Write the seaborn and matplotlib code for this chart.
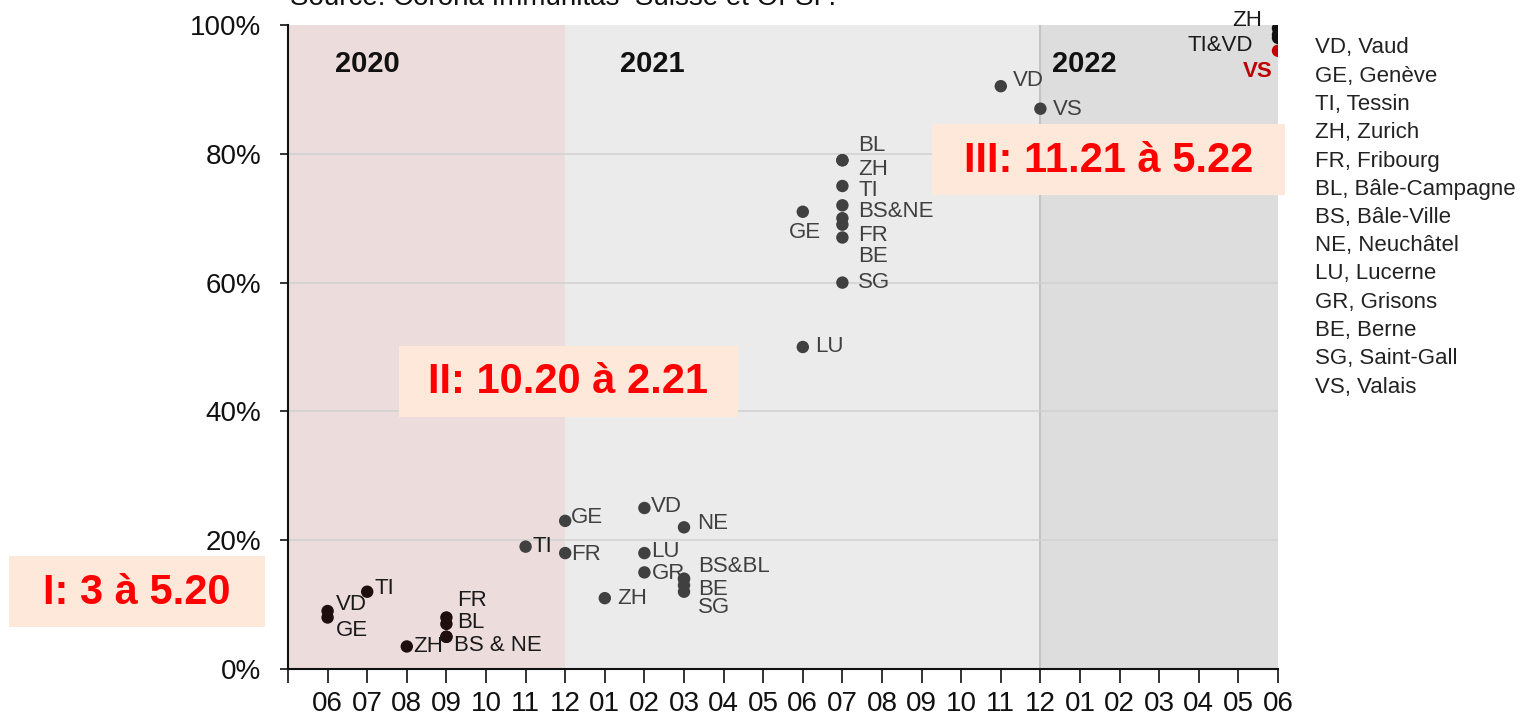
import pandas as pd
import seaborn as sns
import matplotlib.pyplot as plt
from matplotlib.ticker import FuncFormatter

# month axis: 05.20 .. 06.22 (first tick unlabeled)
months = ["05.20", "06.20", "07.20", "08.20", "09.20", "10.20", "11.20", "12.20",
          "01.21", "02.21", "03.21", "04.21", "05.21", "06.21", "07.21", "08.21",
          "09.21", "10.21", "11.21", "12.21", "01.22", "02.22", "03.22", "04.22",
          "05.22", "06.22"]
tick_labels = [""] + [m[:2] for m in months[1:]]

# wave I (3 - 5.20)
w1_canton = ["VD", "GE", "TI", "ZH", "FR", "BL", "BS", "NE"]
w1_month = ["06.20", "06.20", "07.20", "08.20", "09.20", "09.20", "09.20", "09.20"]
w1_pct = [9, 8, 12, 3.5, 8, 7, 5, 5]

# wave II (10.20 - 2.21)
w2_canton = ["TI", "GE", "FR", "ZH", "VD", "LU", "GR", "NE", "BS", "BL", "BE", "SG"]
w2_month = ["11.20", "12.20", "12.20", "01.21", "02.21", "02.21", "02.21",
            "03.21", "03.21", "03.21", "03.21", "03.21"]
w2_pct = [19, 23, 18, 11, 25, 18, 15, 22, 14, 14, 13, 12]

# wave III (11.21 - 5.22) and later surveys
w3_canton = ["GE", "LU", "BL", "ZH", "TI", "BS", "NE", "BE", "FR", "SG", "VD", "VS"]
w3_month = ["06.21", "06.21", "07.21", "07.21", "07.21", "07.21", "07.21",
            "07.21", "07.21", "07.21", "11.21", "12.21"]
w3_pct = [71, 50, 79, 79, 75, 72, 70, 69, 67, 60, 90.5, 87]

# latest (06.22)
w4_canton = ["ZH", "TI", "VD", "VS"]
w4_month = ["06.22", "06.22", "06.22", "06.22"]
w4_pct = [99.5, 98.5, 98, 96]

legend_lines = ["VD, Vaud", "GE, Genève", "TI, Tessin", "ZH, Zurich", "FR, Fribourg",
                "BL, Bâle-Campagne", "BS, Bâle-Ville", "NE, Neuchâtel", "LU, Lucerne",
                "GR, Grisons", "BE, Berne", "SG, Saint-Gall", "VS, Valais"]

rows = []
for grp, cs, ms, ps in [("w1", w1_canton, w1_month, w1_pct),
                        ("w2", w2_canton, w2_month, w2_pct),
                        ("w3", w3_canton, w3_month, w3_pct),
                        ("w4", w4_canton, w4_month, w4_pct)]:
    for c, m, p in zip(cs, ms, ps):
        g = "red" if (grp == "w4" and c == "VS") else grp
        rows.append({"canton": c, "month": m, "pct": p, "group": g, "wave": grp})
df = pd.DataFrame(rows)
df["pos"] = df["month"].map({m: i for i, m in enumerate(months)})

sns.set_theme(style="white")
plt.rcParams["font.family"] = ["Liberation Sans", "DejaVu Sans"]

fig = plt.figure(figsize=(15.21, 7.18), dpi=100)
ax = fig.add_axes([288 / 1521, 1 - 669 / 718, 990 / 1521, 644 / 718])

# year backgrounds
ax.axvspan(0, 7, color="#ecdcdc", zorder=0, lw=0)
ax.axvspan(7, 19, color="#ebebeb", zorder=0, lw=0)
ax.axvspan(19, 25, color="#dddddd", zorder=0, lw=0)
ax.axvline(19, color="#c4c4c4", lw=1.5, zorder=0.5)
for yv in [20, 40, 60, 80]:
    ax.axhline(yv, color="#d2d2d2", lw=1.2, zorder=0.6)

palette = {"w1": "#1e0e0e", "w2": "#404040", "w3": "#404040", "w4": "#111111", "red": "#c00000"}
sns.scatterplot(data=df, x="pos", y="pct", hue="group", palette=palette, s=80,
                edgecolor="none", legend=False, ax=ax, zorder=3)

# point labels: (text, wave, canton anchor, dx px, dy px, ha, color, bold)
dark = "#1a1a1a"
grey = "#404040"
labels = [
    ("VD", "w1", "VD", 8, 7, "left", dark, False),
    ("GE", "w1", "GE", 8, -13, "left", dark, False),
    ("TI", "w1", "TI", 7, 3, "left", dark, False),
    ("ZH", "w1", "ZH", 6, 0, "left", dark, False),
    ("FR", "w1", "FR", 11, 17, "left", dark, False),
    ("BL", "w1", "BL", 11, 1, "left", dark, False),
    ("BS & NE", "w1", "BS", 8, -9, "left", dark, False),
    ("TI", "w2", "TI", 7, 0, "left", dark, False),
    ("GE", "w2", "GE", 6, 3, "left", grey, False),
    ("FR", "w2", "FR", 6, -1, "left", grey, False),
    ("VD", "w2", "VD", 7, 1, "left", grey, False),
    ("NE", "w2", "NE", 13, 4, "left", grey, False),
    ("LU", "w2", "LU", 7, 2, "left", grey, False),
    ("GR", "w2", "GR", 7, -1, "left", grey, False),
    ("ZH", "w2", "ZH", 12, 0, "left", grey, False),
    ("BS&BL", "w2", "BS", 14, 12, "left", grey, False),
    ("BE", "w2", "BE", 14, -4, "left", grey, False),
    ("SG", "w2", "SG", 14, -16, "left", grey, False),
    ("GE", "w3", "GE", 2, -21, "center", grey, False),
    ("LU", "w3", "LU", 12, 0, "left", grey, False),
    ("BL", "w3", "BL", 16, 15, "left", grey, False),
    ("ZH", "w3", "ZH", 16, -9, "left", grey, False),
    ("TI", "w3", "TI", 16, -5, "left", grey, False),
    ("BS&NE", "w3", "BS", 16, -6, "left", grey, False),
    ("FR", "w3", "FR", 16, 2, "left", grey, False),
    ("BE", "w3", "BE", 16, -32, "left", grey, False),
    ("SG", "w3", "SG", 16, 0, "left", grey, False),
    ("VD", "w3", "VD", 12, 6, "left", grey, False),
    ("VS", "w3", "VS", 13, -1, "left", grey, False),
    ("ZH", "w4", "ZH", -16, 8, "right", dark, False),
    ("TI&VD", "w4", "TI", -25, -11, "right", dark, False),
    ("VS", "w4", "VS", -5, -21, "right", "#c00000", True),
]
for txt, wave, c, dx, dy, ha, col, bold in labels:
    r = df[(df["wave"] == wave) & (df["canton"] == c)].iloc[0]
    ax.annotate(txt, (r["pos"], r["pct"]), xytext=(dx, dy), textcoords="offset pixels",
                ha=ha, va="center", fontsize=16, color=col,
                fontweight="bold" if bold else "normal", zorder=4)

# year labels
for x, yr in [(2, "2020"), (9.2, "2021"), (20.1, "2022")]:
    ax.text(x, 94, yr, fontsize=21, fontweight="bold", color="#111111",
            ha="center", va="center", zorder=4)

# wave boxes
wave_boxes = [("I: 3 à 5.20", 9, 556, 256, 71),
              ("II: 10.20 à 2.21", 399, 346, 339, 71),
              ("III: 11.21 à 5.22", 932, 124, 353, 71)]
for txt, x0, y0, w, h in wave_boxes:
    fig.patches.append(plt.Rectangle((x0 / 1521, 1 - (y0 + h) / 718), w / 1521, h / 718,
                                     transform=fig.transFigure, facecolor="#fde8d9",
                                     edgecolor="none", zorder=5))
    fig.text((x0 + w / 2) / 1521, 1 - (y0 + h / 2 + 1) / 718, txt, fontsize=30,
             fontweight="bold", color="#ff0000", ha="center", va="center", zorder=6)

ax.set_xlim(0, 25)
ax.set_ylim(0, 100)
ax.set_xticks(range(len(months)))
ax.set_xticklabels(tick_labels)
ax.set_yticks([0, 20, 40, 60, 80, 100])
ax.yaxis.set_major_formatter(FuncFormatter(lambda v, p: f"{v:.0f}%"))
ax.tick_params(axis="x", length=10, width=1.2, color="#111111", pad=6,
               labelsize=20, labelcolor="#111111", bottom=True)
ax.tick_params(axis="y", length=6, width=1.2, color="#111111", pad=13,
               labelsize=20, labelcolor="#111111", left=True)
ax.set_xlabel("")
ax.set_ylabel("")
for s in ["top", "right"]:
    ax.spines[s].set_visible(False)
for s in ["left", "bottom"]:
    ax.spines[s].set_color("#111111")
    ax.spines[s].set_linewidth(1.5)
ax.grid(False)

# source (cut at top)
fig.text(290 / 1521, 1 - 5 / 718, "Source: Corona Immunitas  Suisse et OFSP.",
         fontsize=20, color="#111111", ha="left", va="baseline")

# canton key
for i, line in enumerate(legend_lines):
    fig.text(1315 / 1521, 1 - (48 + i * 28.25) / 718, line, fontsize=16,
             color="#222222", ha="left", va="center")

fig.savefig("out.png", dpi=100)
